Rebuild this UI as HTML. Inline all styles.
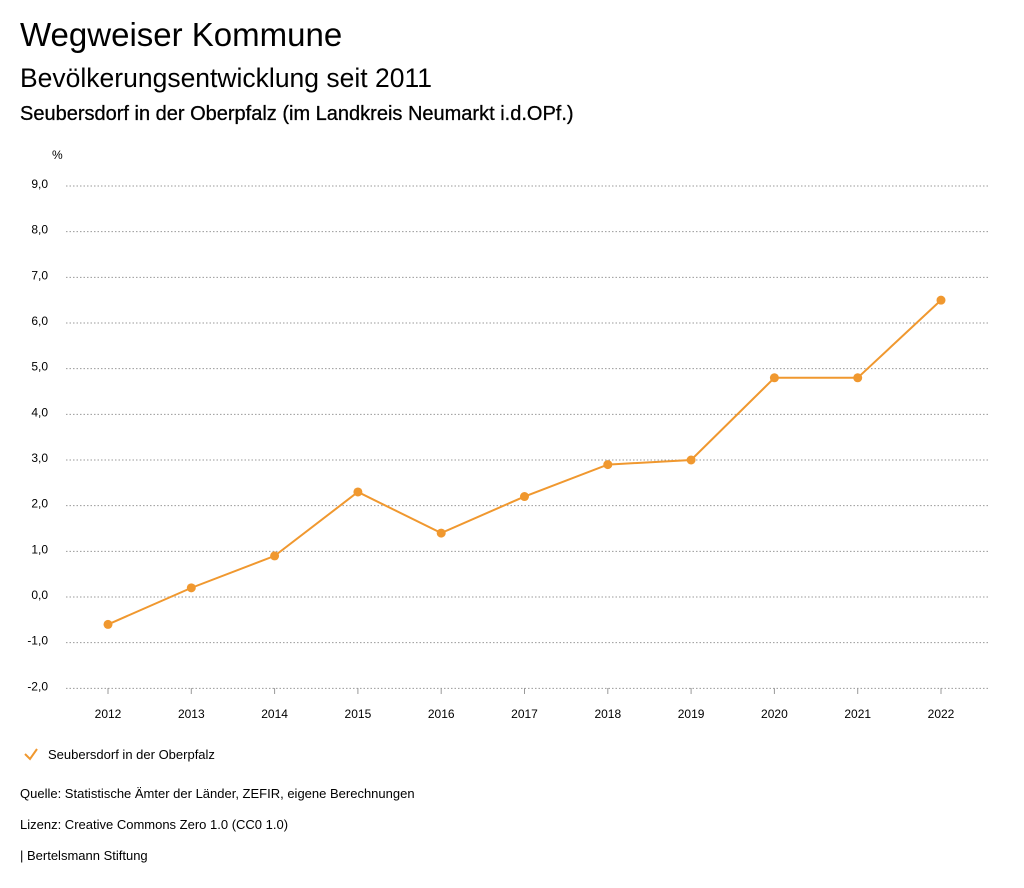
<!DOCTYPE html>
<html><head><meta charset="utf-8"><style>
body{margin:0;background:#fff;font-family:"Liberation Sans",sans-serif;color:#000;}
#wrap{position:relative;width:1024px;height:888px;overflow:hidden;}
.t{position:absolute;left:20px;white-space:nowrap;}
</style></head><body>
<div id="wrap">
<div class="t" style="top:16px;font-size:33px;">Wegweiser Kommune</div>
<div class="t" style="top:63px;font-size:26.5px;">Bevölkerungsentwicklung seit 2011</div>
<div class="t" style="top:103px;font-size:20px;-webkit-text-stroke:0.3px #000;">Seubersdorf in der Oberpfalz (im Landkreis Neumarkt i.d.OPf.)</div>
<svg id="chart" width="1024" height="888" style="position:absolute;left:0;top:0"></svg>
<div class="t" style="top:786px;font-size:13px;">Quelle: Statistische Ämter der Länder, ZEFIR, eigene Berechnungen</div>
<div class="t" style="top:817px;font-size:13px;">Lizenz: Creative Commons Zero 1.0 (CC0 1.0)</div>
<div class="t" style="top:848px;font-size:13px;">| Bertelsmann Stiftung</div>
</div>
<script>
const years=[2012,2013,2014,2015,2016,2017,2018,2019,2020,2021,2022];
const values=[-0.6,0.2,0.9,2.3,1.4,2.2,2.9,3.0,4.8,4.8,6.5];
const yTicks=[-2,-1,0,1,2,3,4,5,6,7,8,9];
const seriesName="Seubersdorf in der Oberpfalz";
const NS="http://www.w3.org/2000/svg";
const svg=document.getElementById('chart');
const color="#f0982f";
function xS(i){return 108+i*(941-108)/(years.length-1);}
function yS(v){return 597-v*(597-186)/9;}
function mk(tag,attrs,parent){const e=document.createElementNS(NS,tag);for(const k in attrs)e.setAttribute(k,attrs[k]);(parent||svg).appendChild(e);return e;}
const u=mk('text',{x:52,y:159,'font-size':12,'font-family':'Liberation Sans'});u.textContent='%';


yTicks.forEach(v=>{
 const l=mk('line',{x1:66,x2:990,y1:yS(v),y2:yS(v),stroke:'#999','stroke-dasharray':'1.5,2','stroke-width':1});
 
 
 const t=mk('text',{x:48,y:yS(v)+2,'font-size':12,'text-anchor':'end','font-family':'Liberation Sans'});
 t.textContent=v.toFixed(1).replace('.',',');
 
 
});
years.forEach((y,i)=>{
 const tk=mk('line',{x1:xS(i),x2:xS(i),y1:688,y2:694,stroke:'#999'});
 
 
 const t=mk('text',{x:xS(i),y:718,'font-size':12,'text-anchor':'middle','font-family':'Liberation Sans'});
 t.textContent=y;
 
 
});
const p=mk('polyline',{points:values.map((v,i)=>xS(i)+','+yS(v)).join(' '),fill:'none',stroke:color,'stroke-width':2});


values.forEach((v,i)=>{
 const c=mk('circle',{cx:xS(i),cy:yS(v),r:4.5,fill:color});
 
 
});
const lg=mk('g',{});


mk('polyline',{points:'25,754 30,759 37,749',fill:'none',stroke:color,'stroke-width':2},lg);
const lt=mk('text',{x:48,y:759,'font-size':13,'font-family':'Liberation Sans'},lg);
lt.textContent=seriesName;
</script>
</body></html>
